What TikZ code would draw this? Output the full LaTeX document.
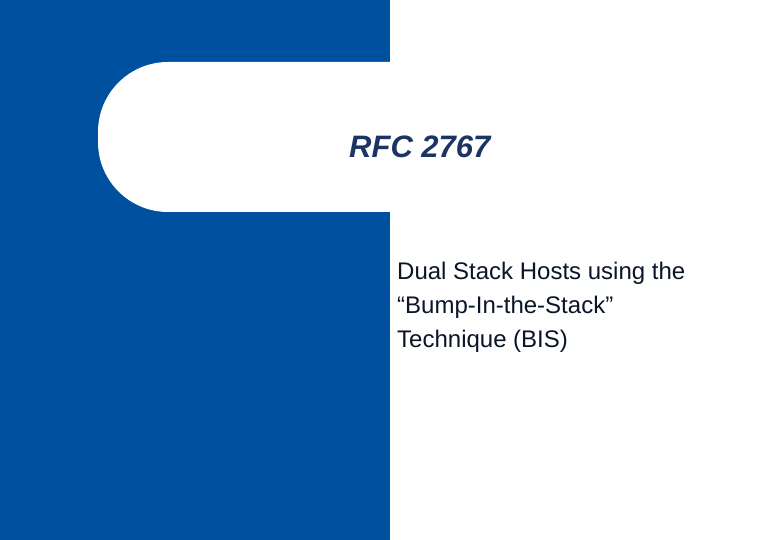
\documentclass[tikz,border=0pt]{standalone}
\usepackage{fontspec}
\setmainfont{Liberation Sans}
\definecolor{slideblue}{RGB}{0,80,160}
\definecolor{titleblue}{RGB}{28,52,100}
\begin{document}
\begin{tikzpicture}[x=1pt,y=1pt]
\useasboundingbox (0,0) rectangle (780,540);
\fill[white] (0,0) rectangle (780,540);
\fill[slideblue] (0,0) rectangle (390,540);
\fill[white,rounded corners=70pt] (780,478) -- (98,478) -- (98,328) -- (780,328) -- cycle;
\fill[white] (700,328) rectangle (780,478);
\node[anchor=base west,text=titleblue,font=\fontsize{31}{36}\selectfont\bfseries\itshape,inner sep=0] (title) at (349,382) {RFC 2767};
\node[anchor=north west,text=titleblue!40!black,font=\fontsize{24}{34}\selectfont,align=left,inner sep=0] (sub) at (397,278) {Dual Stack Hosts using the\\“Bump-In-the-Stack”\\Technique (BIS)};
\end{tikzpicture}
\end{document}
